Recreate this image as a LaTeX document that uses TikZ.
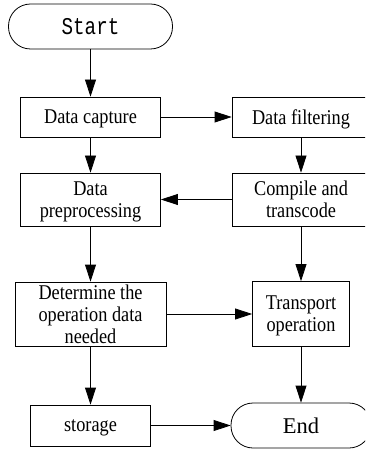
\documentclass[tikz,border=0pt]{standalone}
\usepackage{fontspec}
\setmainfont{Liberation Serif}
\newfontfamily\boxfont[FakeStretch=0.87]{Liberation Serif}
\newfontfamily\termfont[FakeStretch=0.8]{Liberation Mono}
\usetikzlibrary{arrows.meta}
\begin{document}
\begin{tikzpicture}
[x=1pt,y=-1pt,
  lineDecorate/.style={-{Triangle[length=17pt,width=11pt]},line width=0.8pt},%
  boxDecorate/.style={shape=rectangle,draw,line width=0.8pt,inner sep=0pt,
    text depth=0pt,align=center,font=\boxfont\fontsize{21}{22}\selectfont},
  termDecorate/.style={boxDecorate,rounded corners=22pt}]
\clip (0,0) rectangle (365,449);
%% nodes or boxes
\foreach \nodename/\x/\y/\w/\h/\txt in {
  capture/90.5/117/140/40/{Data capture},
  filter/301/117/138/40/{Data filtering},
  preproc/90.5/199.5/140/53/{Data\\preprocessing},
  compile/301/199.5/138/53/{Compile and\\transcode},
  determine/90.5/314/151/64/{Determine the\\operation data\\needed},
  transport/301/314/97/65/{Transport\\operation},
  storage/90.5/425.5/120/41/{storage}}
{
  \node (\nodename) at (\x,\y) [boxDecorate,minimum width=\w pt,minimum height=\h pt] {\txt};
}
%% start and end
\node (start) at (90.5,26.5) [termDecorate,minimum width=164pt,minimum height=45pt]
  {\termfont\fontsize{24}{24}\selectfont Start};
\node (end) at (301,425.5) [termDecorate,minimum width=140pt,minimum height=45pt]
  {\rmfamily\fontsize{22.5}{24}\selectfont End};
%% edges or arrows
\path
\foreach \startnode/\endnode in {
  start/capture, capture/filter, capture/preproc, filter/compile,
  compile/preproc, preproc/determine, compile/transport,
  determine/transport, determine/storage, transport/end, storage/end}
{
  (\startnode) edge[lineDecorate] (\endnode)
};
\end{tikzpicture}
\end{document}
